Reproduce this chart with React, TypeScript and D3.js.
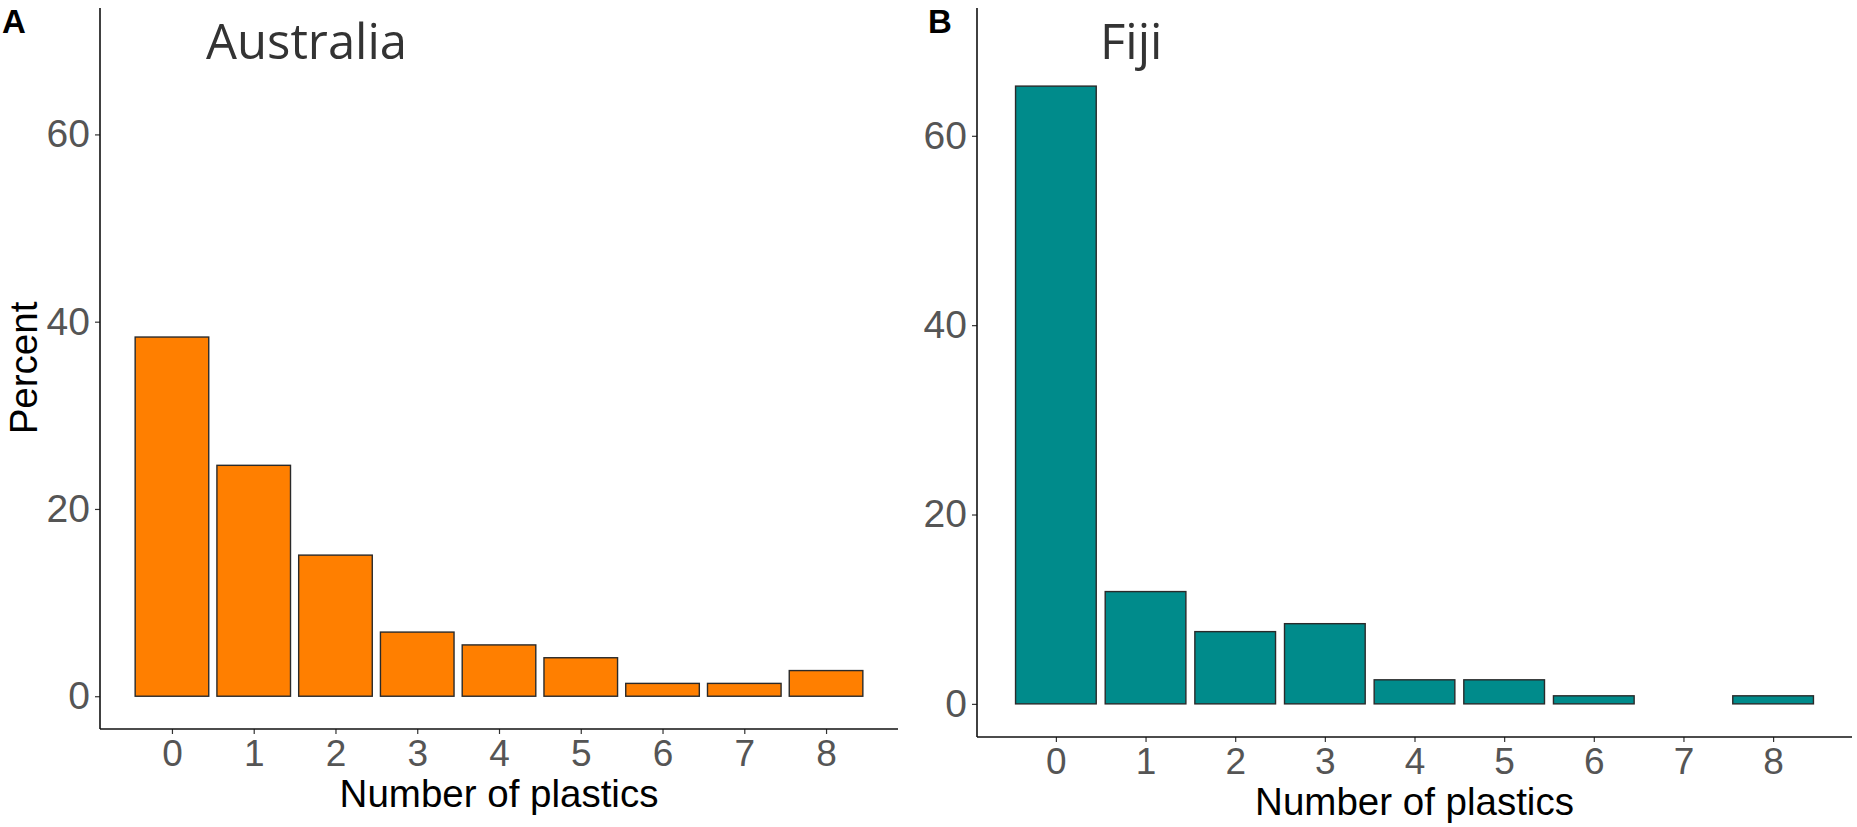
import React, { useRef, useEffect } from "react";
import * as d3 from "d3";

const categories = [0, 1, 2, 3, 4, 5, 6, 7, 8];
const australiaPercent = [38.36, 24.66, 15.07, 6.85, 5.48, 4.11, 1.37, 1.37, 2.74];
const fijiPercent = [65.25, 11.86, 7.63, 8.47, 2.54, 2.54, 0.85, 0, 0.85];
const yTicks = [0, 20, 40, 60];

interface PanelSpec {
  letter: string;
  letterX: number;
  title: string;
  values: number[];
  fill: string;
  left: number;
  right: number;
  top: number;
  bottom: number;
  titleX: number;
  showYLabel: boolean;
}

const panels: PanelSpec[] = [
  {
    letter: "A",
    letterX: 2,
    title: "Australia",
    values: australiaPercent,
    fill: "#FF7F00",
    left: 100,
    right: 898,
    top: 8,
    bottom: 729,
    titleX: 206,
    showYLabel: true,
  },
  {
    letter: "B",
    letterX: 928,
    title: "Fiji",
    values: fijiPercent,
    fill: "#008B8B",
    left: 977,
    right: 1852,
    top: 8,
    bottom: 737,
    titleX: 1100,
    showYLabel: false,
  },
];

const W = 1857;
const H = 827;
const sans = "'Liberation Sans', Arial, sans-serif";

const App: React.FC = () => {
  const ref = useRef<SVGSVGElement | null>(null);

  useEffect(() => {
    const svg = d3.select(ref.current);
    svg.selectAll("*").remove();
    svg.attr("width", W).attr("height", H);

    panels.forEach((p) => {
      const x = d3.scaleLinear().domain([-0.88, 8.88]).range([p.left, p.right]);
      const y = d3.scaleLinear().domain([-3.5, 73.5]).range([p.bottom, p.top]);
      const step = x(1) - x(0);
      const bw = step * 0.9;

      const g = svg.append("g");

      // bars (zero counts are not drawn)
      g.selectAll("rect.bar")
        .data(categories.filter((_, i) => p.values[i] > 0))
        .enter()
        .append("rect")
        .attr("class", "bar")
        .attr("x", (d) => x(d) - bw / 2)
        .attr("width", bw)
        .attr("y", (d) => y(p.values[d]))
        .attr("height", (d) => y(0) - y(p.values[d]))
        .attr("fill", p.fill)
        .attr("stroke", "#2a2a2a")
        .attr("stroke-width", 1.4);

      // y axis
      const yAxis = g
        .append("g")
        .attr("transform", `translate(${p.left},0)`)
        .call(d3.axisLeft(y).tickValues(yTicks).tickSize(5).tickPadding(5).tickFormat(d3.format("d")) as any);
      yAxis.select(".domain").remove();
      yAxis.selectAll(".tick line").attr("stroke", "#333").attr("stroke-width", 1.2);
      yAxis
        .selectAll(".tick text")
        .attr("fill", "#555")
        .style("font-family", sans)
        .style("font-size", "39px");

      // x axis
      const xAxis = g
        .append("g")
        .attr("transform", `translate(0,${p.bottom})`)
        .call(d3.axisBottom(x).tickValues(categories).tickSize(5).tickPadding(6).tickFormat(d3.format("d")) as any);
      xAxis.select(".domain").remove();
      xAxis.selectAll(".tick line").attr("stroke", "#333").attr("stroke-width", 1.2);
      xAxis
        .selectAll(".tick text")
        .attr("fill", "#555")
        .style("font-family", sans)
        .style("font-size", "37px");

      // axis lines
      g.append("line")
        .attr("x1", p.left)
        .attr("x2", p.left)
        .attr("y1", p.top)
        .attr("y2", p.bottom)
        .attr("stroke", "#111")
        .attr("stroke-width", 1.6);
      g.append("line")
        .attr("x1", p.left)
        .attr("x2", p.right)
        .attr("y1", p.bottom)
        .attr("y2", p.bottom)
        .attr("stroke", "#111")
        .attr("stroke-width", 1.6);

      // x label
      g.append("text")
        .attr("x", (p.left + p.right) / 2)
        .attr("y", p.bottom + 78)
        .attr("text-anchor", "middle")
        .attr("fill", "#000")
        .style("font-family", sans)
        .style("font-size", "38.5px")
        .text("Number of plastics");

      if (p.showYLabel) {
        g.append("text")
          .attr("transform", `translate(37,368) rotate(-90)`)
          .attr("text-anchor", "middle")
          .attr("fill", "#000")
          .style("font-family", sans)
          .style("font-size", "38.5px")
          .text("Percent");
      }

      // title
      g.append("text")
        .attr("x", p.titleX)
        .attr("y", 59)
        .attr("fill", "#333")
        .style("font-family", "'Open Sans', sans-serif")
        .style("font-size", "49px")
        .text(p.title);

      // panel letter
      g.append("text")
        .attr("x", p.letterX)
        .attr("y", 33)
        .attr("fill", "#000")
        .style("font-family", sans)
        .style("font-weight", "bold")
        .style("font-size", "33px")
        .text(p.letter);
    });
  }, []);

  return (
    <div style={{ position: "absolute", left: 0, top: 0, background: "#fff" }}>
      <svg ref={ref} />
    </div>
  );
};

export default App;
